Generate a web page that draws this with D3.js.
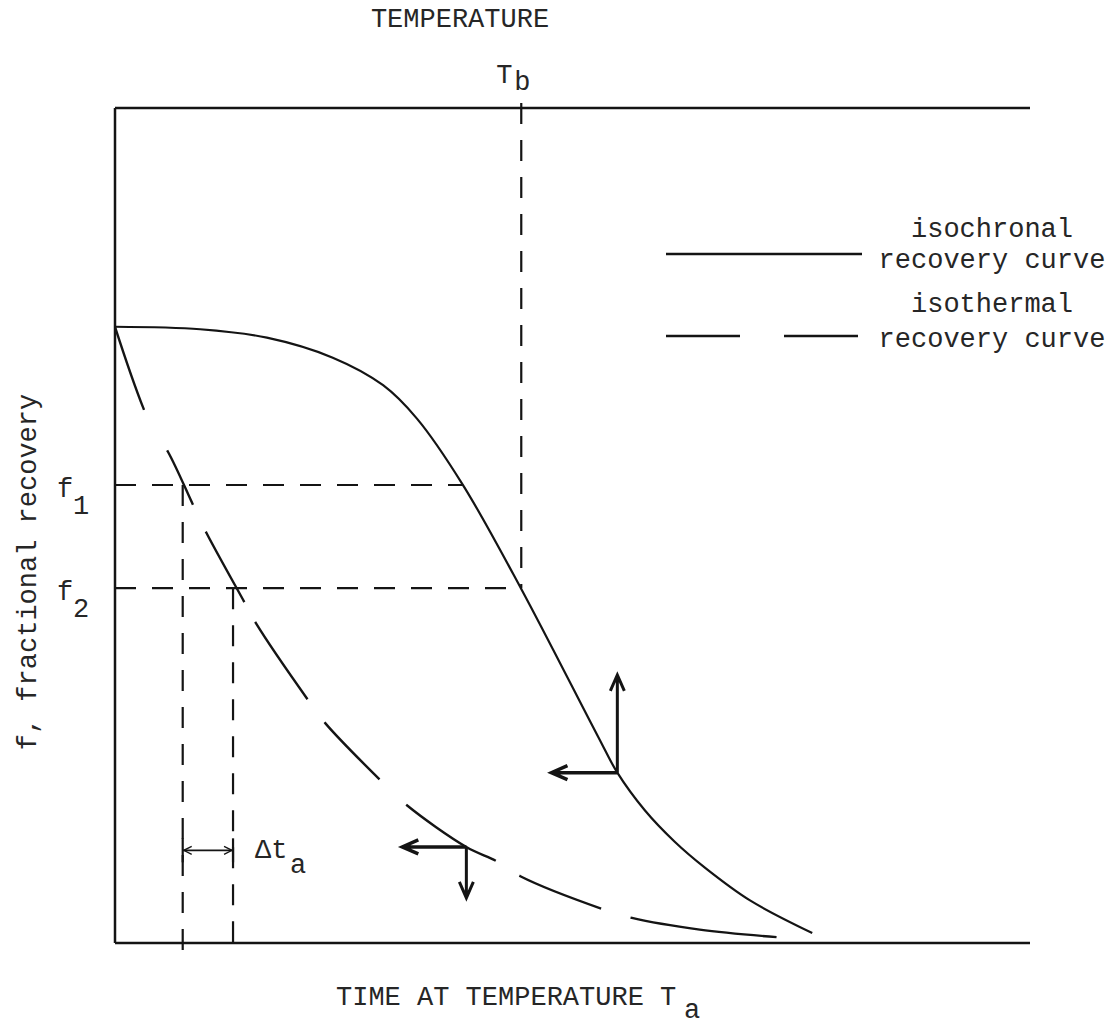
<!DOCTYPE html>
<html>
<head>
<meta charset="utf-8">
<script src="https://cdn.jsdelivr.net/npm/d3@7"></script>
<style>
  body { margin: 0; background: #fff; }
  text { font-family: "Liberation Mono", "DejaVu Sans Mono", monospace; font-size: 27px; fill: #262626; }
</style>
</head>
<body>
<div id="chart"></div>
<script>
// chart units: time at Ta on x (0-100), fractional recovery f on y (0-100)
const isochronalT = [0, 9.3, 16.6, 23.8, 29.3, 33.0, 38.0, 44.4, 52.8, 54.9, 57.9, 61.2, 64.5, 69.4, 76.2];
const isochronalF = [73.8, 73.5, 72.5, 70.1, 66.8, 62.8, 54.9, 42.4, 24.7, 20.4, 15.9, 12.1, 9.0, 5.1, 1.2];

const isothermalT = [0, 3.9, 5.8, 8.6, 10.0, 14.2, 15.4, 21.1, 23.0, 29.0, 31.9, 38.4, 41.7, 44.3, 53.2, 56.5, 63.9, 72.3];
const isothermalF = [73.8, 62.0, 58.8, 52.3, 49.1, 40.7, 38.3, 29.1, 26.3, 19.5, 16.5, 11.5, 9.8, 8.0, 4.1, 3.0, 1.6, 0.7];

// guide levels
const fLevels = [54.85, 42.5];          // f1, f2
const fLabels = ["1", "2"];
const fCrossT = [38.0, 44.4];           // where each f level meets the isochronal curve
const tLevels = [7.4, 12.9];            // isothermal times at f1, f2
const tb = 44.4;                        // T_b

// arrows: [corner t, corner f, horizontal tip t, vertical tip f]
const arrows = [
  [54.9, 20.4, 47.7, 32.1],
  [38.4, 11.5, 31.4, 5.4]
];
const deltaF = 11.1;

const width = 1116, height = 1026;

const svg = d3.select("#chart").append("svg")
  .attr("width", width)
  .attr("height", height);

const x = d3.scaleLinear().domain([0, 100]).range([115, 1030]);
const y = d3.scaleLinear().domain([0, 100]).range([943, 108]);

const ink = "#141414";
const guideDash = "21,16";

// frame: temperature axis on top, time axis at bottom, f axis at left
svg.append("line")
  .attr("x1", x(0)).attr("x2", x(100)).attr("y1", y(100)).attr("y2", y(100))
  .attr("stroke", ink).attr("stroke-width", 2.5);
svg.append("line")
  .attr("x1", x(0)).attr("x2", x(100)).attr("y1", y(0)).attr("y2", y(0))
  .attr("stroke", ink).attr("stroke-width", 2.5);
svg.append("line")
  .attr("x1", x(0)).attr("x2", x(0)).attr("y1", y(100)).attr("y2", y(0))
  .attr("stroke", ink).attr("stroke-width", 2.5);

// dashed guides
let guides = svg.append("g")
  .attr("stroke", ink)
  .attr("stroke-width", 2.2)
  .attr("stroke-dasharray", guideDash);

guides.append("line")
  .attr("x1", x(tb)).attr("x2", x(tb))
  .attr("y1", y(100) - 5).attr("y2", y(fLevels[1]));

fLevels.forEach((f, i) => {
  guides.append("line")
    .attr("x1", x(0)).attr("x2", x(fCrossT[i]))
    .attr("y1", y(f)).attr("y2", y(f));
  guides.append("line")
    .attr("x1", x(tLevels[i])).attr("x2", x(tLevels[i]))
    .attr("y1", y(f)).attr("y2", y(0) + 14);
});

// curves
let line = d3.line()
  .x(d => x(d[0]))
  .y(d => y(d[1]))
  .curve(d3.curveCatmullRom.alpha(0.5));

svg.append("path")
  .attr("d", line(d3.zip(isochronalT, isochronalF)))
  .attr("fill", "none")
  .attr("stroke", ink)
  .attr("stroke-width", 2.2);

svg.append("path")
  .attr("d", line(d3.zip(isothermalT, isothermalF)))
  .attr("fill", "none")
  .attr("stroke", ink)
  .attr("stroke-width", 2.4)
  .attr("stroke-dasharray", "88,47,60,30,80,23,93,29,79,37,106,28,88,31,400");

// arrows
function arrow(g, x1, y1, x2, y2, len, half, w) {
  let a = Math.atan2(y2 - y1, x2 - x1);
  let bx = x2 - len * Math.cos(a), by = y2 - len * Math.sin(a);
  let px = -Math.sin(a) * half, py = Math.cos(a) * half;
  g.append("path")
    .attr("d", `M${x1},${y1}L${x2},${y2}M${bx + px},${by + py}L${x2},${y2}L${bx - px},${by - py}`)
    .attr("fill", "none")
    .attr("stroke", ink)
    .attr("stroke-width", w)
    .attr("stroke-linejoin", "miter");
}

arrows.forEach(d => {
  arrow(svg, x(d[0]), y(d[1]), x(d[2]), y(d[1]), 16, 7, 3.5);
  arrow(svg, x(d[0]), y(d[1]), x(d[0]), y(d[3]), 16, 7, 3);
});

// delta t marker
let dxA = x(tLevels[0]), dxB = x(tLevels[1]), dy = y(deltaF);
svg.append("line")
  .attr("x1", dxA).attr("x2", dxB).attr("y1", dy).attr("y2", dy)
  .attr("stroke", ink).attr("stroke-width", 1.8);
svg.append("path")
  .attr("d", `M${dxA + 9},${dy - 4}L${dxA + 1},${dy}L${dxA + 9},${dy + 4}M${dxB - 9},${dy - 4}L${dxB - 1},${dy}L${dxB - 9},${dy + 4}`)
  .attr("fill", "none").attr("stroke", ink).attr("stroke-width", 1.3);
svg.append("line")
  .attr("x1", dxA).attr("x2", dxA).attr("y1", dy - 12).attr("y2", dy + 12)
  .attr("stroke", ink).attr("stroke-width", 2.2);
svg.append("line")
  .attr("x1", dxB).attr("x2", dxB).attr("y1", dy - 12).attr("y2", dy + 12)
  .attr("stroke", ink).attr("stroke-width", 2.2);

svg.append("text").attr("x", dxB + 22).attr("y", dy + 8).text("\u0394t");
svg.append("text").attr("x", dxB + 57).attr("y", dy + 23).text("a");

// labels
svg.append("text")
  .attr("x", 460).attr("y", 27)
  .attr("text-anchor", "middle")
  .text("TEMPERATURE");

svg.append("text").attr("x", x(tb) - 17).attr("y", 83).attr("text-anchor", "middle").text("T");
svg.append("text").attr("x", x(tb) + 1).attr("y", 90).attr("text-anchor", "middle").text("b");

fLevels.forEach((f, i) => {
  svg.append("text").attr("x", 65).attr("y", y(f) + 12).attr("text-anchor", "middle").text("f");
  svg.append("text").attr("x", 81).attr("y", y(f) + 29).attr("text-anchor", "middle").text(fLabels[i]);
});

svg.append("text")
  .attr("transform", "translate(36,572) rotate(-90)")
  .attr("text-anchor", "middle")
  .text("f, fractional recovery");

svg.append("text")
  .attr("x", 336).attr("y", 1005)
  .text("TIME AT TEMPERATURE T");
svg.append("text")
  .attr("x", 692).attr("y", 1018)
  .attr("text-anchor", "middle")
  .text("a");

// legend
let legend = svg.append("g");
legend.append("line")
  .attr("x1", 666).attr("x2", 862).attr("y1", 254).attr("y2", 254)
  .attr("stroke", ink).attr("stroke-width", 2.4);
legend.append("line")
  .attr("x1", 666).attr("x2", 862).attr("y1", 336).attr("y2", 336)
  .attr("stroke", ink).attr("stroke-width", 2.4)
  .attr("stroke-dasharray", "74,44");

legend.append("text").attr("x", 992).attr("y", 237).attr("text-anchor", "middle").text("isochronal");
legend.append("text").attr("x", 992).attr("y", 268).attr("text-anchor", "middle").text("recovery curve");
legend.append("text").attr("x", 992).attr("y", 312).attr("text-anchor", "middle").text("isothermal");
legend.append("text").attr("x", 992).attr("y", 347).attr("text-anchor", "middle").text("recovery curve");
</script>
</body>
</html>
